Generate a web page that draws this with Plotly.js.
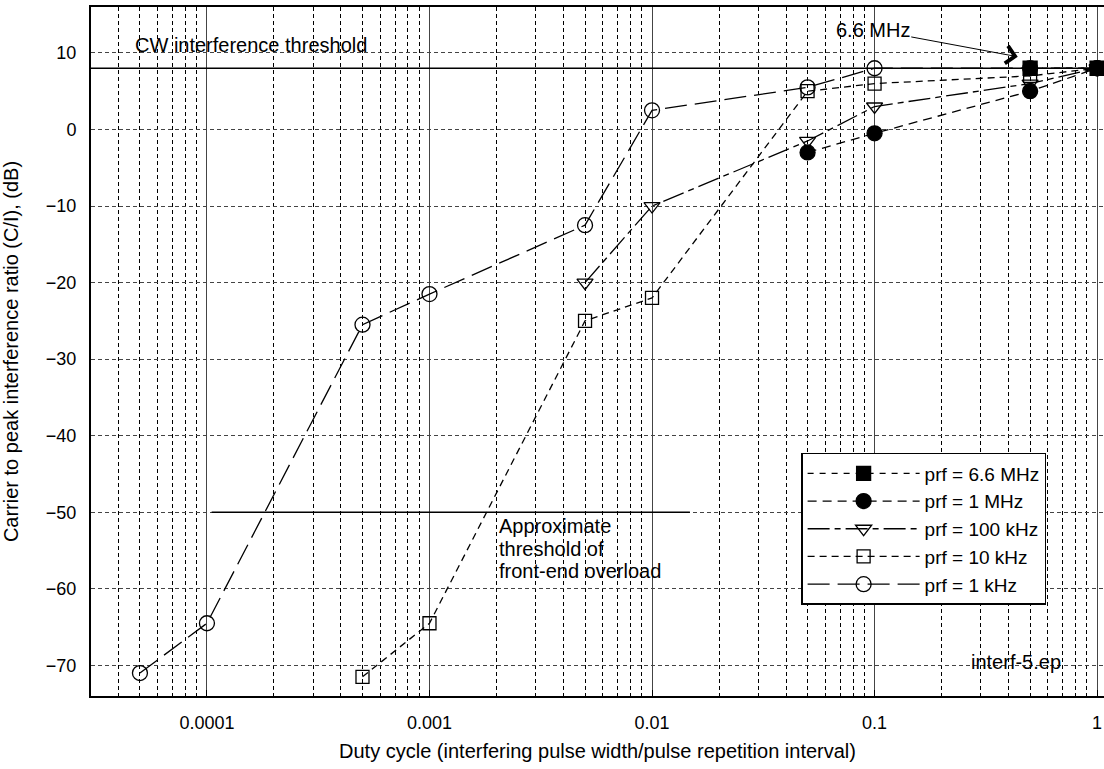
<!DOCTYPE html>
<html>
<head>
<meta charset="utf-8">
<script src="https://cdn.plot.ly/plotly-3.0.1.min.js"></script>
<style>html,body{margin:0;padding:0;background:#fff;}#chart{width:1104px;height:769px;}</style>
</head>
<body>
<div id="chart"></div>
<script>
// ---- data ----
const seriesNames = ["prf = 1 kHz", "prf = 10 kHz", "prf = 100 kHz", "prf = 1 MHz", "prf = 6.6 MHz"];

const duty_1k   = [0.00005, 0.0001, 0.0005, 0.001, 0.005, 0.01, 0.05, 0.1, 0.5, 1];
const ci_1k     = [-71, -64.5, -25.5, -21.5, -12.5, 2.5, 5.5, 8, 8, 8];

const duty_10k  = [0.0005, 0.001, 0.005, 0.01, 0.05, 0.1, 0.5, 1];
const ci_10k    = [-71.5, -64.5, -25, -22, 5, 6, 7, 8];

const duty_100k = [0.005, 0.01, 0.05, 0.1, 0.5, 1];
const ci_100k   = [-20, -10, -1.5, 3, 6, 8];

const duty_1M   = [0.05, 0.1, 0.5, 1];
const ci_1M     = [-3, -0.5, 5, 8];

const duty_6M   = [0.5, 1];
const ci_6M     = [8, 8];

const cwThreshold = 8;
const cwExtent = [0.00002, 2];
const overloadThreshold = -50;
const overloadExtent = [0.000105, 0.0148];

const xTickVals = [0.0001, 0.001, 0.01, 0.1, 1];
const xTickText = ["0.0001", "0.001", "0.01", "0.1", "1"];

const overloadLabel = ["Approximate", "threshold of", "front-end overload"];

// ---- traces ----
const FONT = "Liberation Sans, Arial, Helvetica, sans-serif";
function series(x, y, name, symbol, size, dash) {
  return {
    type: "scatter", mode: "lines+markers", x: x, y: y, name: name,
    line: {color: "#000", width: 1.3, dash: dash},
    marker: {symbol: symbol, size: size, color: "#000", line: {color: "#000", width: 1.3}},
    cliponaxis: true
  };
}
const traces = [
  {type: "scatter", mode: "lines", x: cwExtent, y: [cwThreshold, cwThreshold],
   line: {color: "#000", width: 1.3}, showlegend: false, hoverinfo: "skip"},
  {type: "scatter", mode: "lines", x: overloadExtent, y: [overloadThreshold, overloadThreshold],
   line: {color: "#000", width: 1.3}, showlegend: false, hoverinfo: "skip"},
  series(duty_1k, ci_1k, seriesNames[0], "circle-open", 15, "22px,8px"),
  series(duty_10k, ci_10k, seriesNames[1], "square-open", 13, "7px,5px"),
  series(duty_100k, ci_100k, seriesNames[2], "triangle-down-open", 14, "22px,5px,6px,5px"),
  series(duty_1M, ci_1M, seriesNames[3], "circle", 15, "9px,6px"),
  series(duty_6M, ci_6M, seriesNames[4], "square", 14, "6px,6px")
];

const L = Math.log10;
const annotations = [
  {x: L(0.0000465), y: 11, xref: "x", yref: "y", text: "CW interference threshold",
   showarrow: false, xanchor: "left", yanchor: "middle", font: {size: 20}},
  {x: L(0.44), y: 9.5, xref: "x", yref: "y", text: "6.6 MHz",
   showarrow: true, ax: -145, ay: -27, arrowhead: 4, arrowsize: 3.4, arrowwidth: 1,
   arrowcolor: "#000", font: {size: 20}},
  {x: L(0.43), y: -69.6, xref: "x", yref: "y", text: "interf-5.ep",
   showarrow: false, xanchor: "center", yanchor: "middle", font: {size: 20}}
];
const overloadY = [-51.8, -54.75, -57.7];
overloadLabel.forEach(function (t, i) {
  annotations.push({x: L(0.00201), y: overloadY[i], xref: "x", yref: "y", text: t,
    showarrow: false, xanchor: "left", yanchor: "middle", align: "left", font: {size: 20}});
});

const layout = {
  width: 1104, height: 769,
  margin: {l: 91, r: 0, t: 7, b: 73},
  paper_bgcolor: "#fff", plot_bgcolor: "#fff",
  font: {family: FONT, size: 18, color: "#000"},
  showlegend: true,
  legend: {
    x: 0.701, y: 0.3527, xanchor: "left", yanchor: "top",
    bgcolor: "#fff", bordercolor: "#000", borderwidth: 1.5,
    traceorder: "reversed", itemwidth: 112,
    font: {family: FONT, size: 19, color: "#000"},
    tracegroupgap: 0
  },
  xaxis: {
    type: "log", range: [-4.521, 0.031],
    tickvals: xTickVals, ticktext: xTickText,
    tickfont: {size: 18},
    showgrid: true, gridcolor: "#444", gridwidth: 1,
    ticks: "inside", ticklen: 6, tickcolor: "#000",
    showline: true, linecolor: "#000", linewidth: 2, mirror: true,
    zeroline: false,
    ticklabelstandoff: 9,
    minor: {dtick: "D1", showgrid: true, gridcolor: "#000", gridwidth: 1, griddash: "4px,3px",
            ticks: "inside", ticklen: 3, tickcolor: "#000"},
    title: {text: "Duty cycle (interfering pulse width/pulse repetition interval)", standoff: 12,
            font: {family: FONT, size: 20}},
    automargin: false
  },
  yaxis: {
    range: [-74, 16], dtick: 10, tick0: 0,
    tickfont: {size: 18},
    showgrid: true, gridcolor: "#444", gridwidth: 1, griddash: "4px,3px",
    ticks: "", showline: true, linecolor: "#000", linewidth: 2, mirror: true,
    zeroline: false, ticklabelstandoff: 9,
    title: {text: "Carrier to peak interference ratio (C/I), (dB)", standoff: 22,
            font: {family: FONT, size: 20}},
    automargin: false
  },
  annotations: annotations
};

Plotly.newPlot("chart", traces, layout, {staticPlot: true, displayModeBar: false});
</script>
</body>
</html>
